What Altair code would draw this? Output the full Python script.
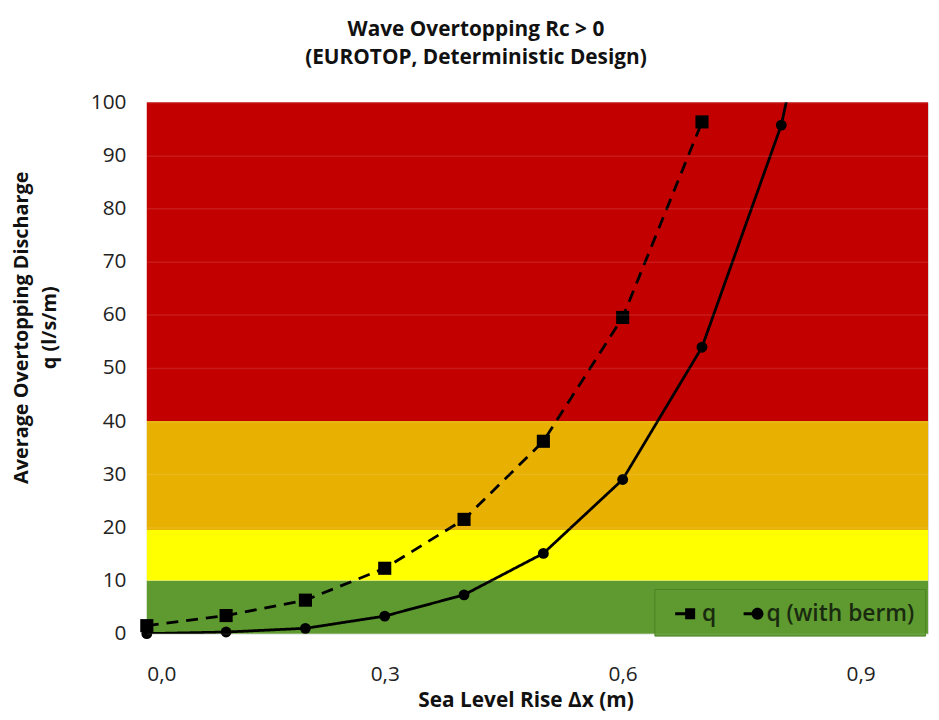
import altair as alt
import pandas as pd

# ---- data ----
x_q = [0.0, 0.1, 0.2, 0.3, 0.4, 0.5, 0.6, 0.7]
q_vals = [1.5, 3.4, 6.3, 12.3, 21.5, 36.2, 59.5, 96.3]

x_berm = [0.0, 0.1, 0.2, 0.3, 0.4, 0.5, 0.6, 0.7, 0.8, 0.9]
berm_vals = [0.0, 0.3, 1.0, 3.3, 7.3, 15.1, 29.0, 53.9, 95.7, 165.0]

series_names = ["q", "q (with berm)"]

band_names = ["green", "yellow", "orange", "red"]
band_lo = [0, 10, 19.5, 40]
band_hi = [10, 19.5, 40, 100]
band_colors = ["#5e9a2f", "#ffff00", "#e8b000", "#c20000"]

x_ticks = [0.0, 0.3, 0.6, 0.9]
y_ticks = [0, 10, 20, 30, 40, 50, 60, 70, 80, 90, 100]

FONT = "Open Sans"
W, H = 788, 536

rows = [{"x": x, "v": v, "series": series_names[0]} for x, v in zip(x_q, q_vals)]
rows += [{"x": x, "v": v, "series": series_names[1]} for x, v in zip(x_berm, berm_vals)]
df = pd.DataFrame(rows)

bands = pd.DataFrame({"band": band_names, "lo": band_lo, "hi": band_hi})

x_scale = alt.Scale(domain=[0, 0.985], nice=False, zero=False)
y_scale = alt.Scale(domain=[0, 100], nice=False)

x_axis = alt.Axis(values=x_ticks, labelExpr="replace(format(datum.value, '.1f'), '.', ',')",
                  ticks=False, domain=False, grid=False, labelFontSize=21, labelFont=FONT,
                  labelColor="#222222", labelPadding=30,
                  title="Sea Level Rise Δx (m)", titleFontSize=21, titleFont=FONT,
                  titleFontWeight="bold", titleColor="#111111",
                  titleX=382, titleY=74, titleBaseline="alphabetic", titleAnchor="middle")

y_axis = alt.Axis(values=y_ticks, ticks=False, domain=False, grid=True,
                  gridColor="#ffffff", gridOpacity=0.1, gridWidth=1.5, zindex=1,
                  labelFontSize=21, labelFont=FONT, labelColor="#222222", labelPadding=21,
                  title=["Average Overtopping Discharge", "q (l/s/m)"], titleFontSize=20,
                  titleFont=FONT, titleFontWeight="bold", titleColor="#111111",
                  titleX=-136, titleY=227, titleBaseline="top", titleAlign="center",
                  titleLineHeight=28, titleAngle=-90)

band_layer = alt.Chart(bands).mark_rect(strokeWidth=0).encode(
    x=alt.value(0), x2=alt.value(W),
    y=alt.Y("lo:Q", scale=y_scale, axis=y_axis),
    y2="hi:Q",
    fill=alt.Fill("band:N", scale=alt.Scale(domain=band_names, range=band_colors), legend=None),
)

line_layer = alt.Chart(df).mark_line(color="black", strokeWidth=2.8, clip=True).encode(
    x=alt.X("x:Q", scale=x_scale, axis=x_axis),
    y=alt.Y("v:Q", scale=y_scale),
    strokeDash=alt.StrokeDash("series:N", scale=alt.Scale(domain=series_names, range=[[12, 8], [1, 0]]),
                              legend=None),
    detail="series:N",
)

point_layer = alt.Chart(df).transform_filter("datum.v <= 100").mark_point(
    filled=True, color="black", opacity=1).encode(
    x=alt.X("x:Q", scale=x_scale),
    y=alt.Y("v:Q", scale=y_scale),
    shape=alt.Shape("series:N", scale=alt.Scale(domain=series_names, range=["square", "circle"]),
                    legend=None),
    size=alt.Size("series:N", scale=alt.Scale(domain=series_names, range=[175, 120]), legend=None),
)

# legend symbols: short line + marker, drawn as filled shapes (unit = 14 px)
q_sym = "M-0.29,-0.11H0.45V0.11H-0.29Z M0.43,-0.4H1.15V0.4H0.43Z"
berm_sym = "M0,-0.11H0.8V0.11H0Z M1.43,0A0.43,0.43 0 1 1 0.57,0A0.43,0.43 0 1 1 1.43,0Z"

legend_layer = alt.Chart(df).mark_point(filled=True, color="black", opacity=0, clip=True).encode(
    x=alt.X("x:Q", scale=x_scale),
    y=alt.Y("v:Q", scale=y_scale),
    shape=alt.Shape("series:N",
                    scale=alt.Scale(domain=series_names, range=[q_sym, berm_sym]),
                    legend=alt.Legend(title=None, orient="none", legendX=512, legendY=491,
                                      direction="horizontal", fillColor="#5e9a2f",
                                      strokeColor="#4b8526", padding=10,
                                      symbolSize=784, symbolOpacity=1,
                                      symbolFillColor="black",
                                      labelFontSize=23, labelFont=FONT, labelFontWeight=600,
                                      labelColor="#1a2a10",
                                      columnPadding=12, labelOffset=8)),
)

chart = alt.layer(band_layer, line_layer, point_layer, legend_layer).resolve_scale(
    shape="independent"
).properties(
    width=W, height=H,
    title=alt.TitleParams(["Wave Overtopping Rc > 0", "(EUROTOP, Deterministic Design)"],
                          fontSize=21, font=FONT, fontWeight="bold", color="#111111",
                          anchor="middle", frame="group", dx=-62, offset=24, lineHeight=28),
    autosize=alt.AutoSizeParams(type="none"),
    padding={"left": 140, "top": 92, "right": 3, "bottom": 76},
).configure_view(stroke=None).configure(background="white")

chart.save("out.html", embed_options={"renderer": "svg", "actions": False})
